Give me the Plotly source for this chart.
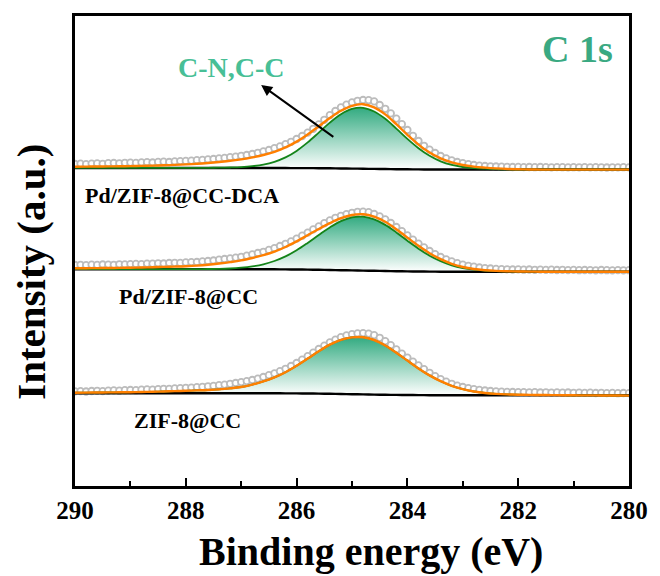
import numpy as np
import plotly.graph_objects as go

# ---------------- data ----------------
# binding-energy grids (eV)
E_data = np.round(np.linspace(290.0, 280.0, 101), 2)
E_fit = np.round(np.linspace(290.0, 280.0, 51), 2)

# raw spectra (a.u., already stacked)
raw_dca = [322.0, 322.3, 321.8, 322.4, 322.6, 322.2, 322.8, 323.0, 322.7, 323.2,
           323.4, 323.1, 323.6, 323.8, 323.5, 324.1, 324.3, 324.0, 324.6, 324.9,
           325.1, 325.4, 325.8, 326.1, 326.6, 327.0, 327.6, 328.1, 328.8, 329.4,
           330.2, 331.0, 332.0, 333.2, 334.6, 336.0, 337.8, 339.6, 341.8, 344.2,
           347.0, 350.0, 353.4, 357.2, 361.6, 366.2, 370.8, 375.0, 378.6, 381.4,
           383.6, 385.2, 386.0, 385.8, 384.6, 381.0, 377.2, 372.6, 367.4, 361.8,
           356.0, 350.2, 345.0, 340.2, 336.4, 333.0, 330.0, 327.6, 325.6, 324.0,
           322.8, 321.8, 321.0, 320.4, 320.0, 319.7, 319.5, 319.3, 319.2, 319.0,
           319.1, 318.9, 319.0, 318.8, 319.0, 318.9, 318.7, 318.9, 318.8, 318.6,
           318.8, 318.7, 318.9, 318.6, 318.8, 318.7, 318.5, 318.7, 318.6, 318.8,
           318.6]
raw_pd = [221.0, 221.2, 220.9, 221.3, 221.1, 221.5, 221.4, 221.2, 221.7, 221.6,
          221.9, 222.1, 221.8, 222.4, 222.3, 222.7, 222.5, 223.0, 223.2, 223.1,
          223.6, 223.9, 224.0, 224.6, 225.0, 225.5, 226.3, 227.0, 227.6, 228.4,
          229.2, 230.3, 231.6, 233.0, 234.2, 236.1, 237.8, 240.0, 242.2, 244.6,
          247.4, 250.3, 253.4, 256.6, 259.6, 262.8, 265.6, 268.2, 270.2, 271.9,
          273.2, 274.2, 274.4, 273.8, 272.0, 269.6, 266.6, 263.0, 259.0, 254.8,
          250.6, 246.4, 242.4, 238.6, 235.0, 231.8, 229.0, 226.6, 224.6, 222.8,
          221.4, 220.2, 219.3, 218.5, 217.9, 217.5, 217.1, 216.9, 216.7, 216.5,
          216.6, 216.3, 216.5, 216.2, 216.4, 216.1, 216.3, 216.0, 216.2, 215.9,
          216.1, 215.8, 216.0, 215.9, 215.7, 216.0, 215.8, 215.6, 215.9, 215.7,
          215.8]
raw_zif = [94.6, 94.9, 94.5, 95.0, 95.2, 94.9, 95.4, 95.6, 95.3, 95.8,
           96.0, 95.8, 96.3, 96.6, 96.4, 96.9, 97.2, 97.1, 97.6, 97.9,
           98.2, 98.4, 98.9, 99.2, 99.7, 100.1, 100.8, 101.4, 102.2, 103.0,
           103.9, 104.9, 106.0, 107.4, 109.0, 110.8, 112.6, 114.8, 117.2, 120.0,
           123.0, 126.4, 129.8, 133.4, 137.0, 140.4, 143.6, 146.4, 148.8, 150.6,
           151.8, 152.6, 152.9, 152.4, 150.8, 148.2, 144.8, 140.8, 136.6, 132.4,
           128.4, 124.4, 120.6, 116.8, 113.2, 109.8, 106.9, 104.4, 102.2, 100.4,
           99.0, 97.8, 96.9, 96.1, 95.5, 95.0, 94.6, 94.4, 94.1, 94.0,
           93.8, 93.9, 93.6, 93.8, 93.5, 93.7, 93.4, 93.6, 93.3, 93.5,
           93.2, 93.4, 93.1, 93.3, 93.0, 93.2, 92.9, 93.1, 92.8, 93.0,
           92.9]

# Shirley backgrounds
bg_dca = [318.0, 318.0, 318.0, 318.0, 318.0, 318.0, 318.0, 318.0, 318.0, 318.0,
          318.0, 318.0, 318.0, 318.0, 318.0, 318.0, 318.0, 318.0, 318.0, 317.95,
          317.9, 317.85, 317.8, 317.7, 317.55, 317.4, 317.25, 317.1, 316.95, 316.8,
          316.7, 316.6, 316.5, 316.5, 316.5, 316.5, 316.5, 316.5, 316.5, 316.5,
          316.5, 316.5, 316.5, 316.5, 316.5, 316.5, 316.5, 316.5, 316.5, 316.5,
          316.5]
bg_pd = [216.7, 216.7, 216.7, 216.7, 216.7, 216.7, 216.7, 216.7, 216.7, 216.7,
         216.7, 216.7, 216.7, 216.7, 216.7, 216.7, 216.7, 216.7, 216.7, 216.6,
         216.5, 216.4, 216.2, 216.0, 215.8, 215.6, 215.4, 215.2, 215.0, 214.8,
         214.6, 214.5, 214.4, 214.3, 214.3, 214.3, 214.3, 214.3, 214.3, 214.3,
         214.3, 214.3, 214.3, 214.3, 214.3, 214.3, 214.3, 214.3, 214.3, 214.3,
         214.3]
bg_zif = [92.7, 92.7, 92.7, 92.7, 92.7, 92.7, 92.7, 92.7, 92.7, 92.7,
          92.7, 92.7, 92.7, 92.7, 92.7, 92.7, 92.7, 92.7, 92.7, 92.65,
          92.6, 92.5, 92.4, 92.2, 92.0, 91.8, 91.6, 91.4, 91.25, 91.1,
          91.0, 90.9, 90.8, 90.8, 90.8, 90.8, 90.8, 90.8, 90.8, 90.8,
          90.8, 90.8, 90.8, 90.8, 90.8, 90.8, 90.8, 90.8, 90.8, 90.8,
          90.8]

# C-N, C-C component (including background)
comp_dca = [318.1, 318.1, 318.1, 318.1, 318.1, 318.1, 318.1, 318.1, 318.1, 318.1,
            318.1, 318.2, 318.2, 318.3, 318.5, 318.9, 319.8, 321.4, 324.2, 328.6,
            335.1, 343.6, 353.4, 363.4, 371.8, 377.1, 378.2, 374.5, 367.2, 357.4,
            347.1, 337.8, 330.2, 324.7, 321.1, 319.0, 317.9, 317.3, 316.9, 316.6,
            316.5, 316.5, 316.5, 316.5, 316.5, 316.5, 316.5, 316.5, 316.5, 316.5,
            316.5]
comp_pd = [216.8, 216.8, 216.8, 216.8, 216.8, 216.8, 216.8, 216.8, 216.8, 216.8,
           216.8, 216.9, 217.0, 217.1, 217.5, 218.3, 219.6, 221.7, 225.0, 229.6,
           235.7, 243.1, 251.0, 258.6, 264.9, 268.7, 269.3, 266.6, 261.1, 253.6,
           245.3, 237.3, 230.3, 224.8, 220.7, 218.0, 216.4, 215.4, 214.9, 214.6,
           214.4, 214.3, 214.3, 214.3, 214.3, 214.3, 214.3, 214.3, 214.3, 214.3,
           214.3]

# fitted envelopes
fit_dca = [319.3, 319.4, 319.5, 319.6, 319.7, 319.9, 320.1, 320.4, 320.7, 321.1,
           321.6, 322.2, 323.0, 324.0, 325.2, 326.6, 328.6, 331.0, 334.2, 338.6,
           344.4, 351.6, 359.8, 368.0, 375.2, 380.2, 381.8, 378.6, 371.6, 361.8,
           351.2, 341.4, 333.4, 327.6, 323.6, 321.0, 319.4, 318.4, 317.6, 317.0,
           316.7, 316.5, 316.4, 316.4, 316.4, 316.4, 316.4, 316.4, 316.4, 316.4,
           316.4]
fit_pd = [217.7, 217.8, 217.9, 218.0, 218.1, 218.3, 218.5, 218.8, 219.1, 219.4,
          219.8, 220.4, 221.3, 222.5, 223.9, 225.6, 228.0, 230.8, 234.4, 239.0,
          244.6, 250.8, 257.0, 262.8, 267.8, 271.0, 271.8, 269.4, 264.2, 256.8,
          248.4, 240.2, 232.8, 226.8, 222.2, 219.0, 217.0, 215.8, 215.1, 214.7,
          214.5, 214.4, 214.3, 214.3, 214.3, 214.3, 214.3, 214.3, 214.3, 214.3,
          214.3]
fit_zif = [93.3, 93.4, 93.5, 93.6, 93.7, 93.8, 94.0, 94.2, 94.5, 94.9,
           95.2, 95.6, 96.0, 96.6, 97.6, 99.0, 101.4, 104.6, 108.6, 113.8,
           120.2, 127.4, 134.8, 141.4, 146.2, 148.6, 148.8, 146.0, 140.5, 133.3,
           125.4, 117.6, 110.6, 104.8, 100.2, 96.8, 94.5, 93.0, 92.1, 91.6,
           91.3, 91.1, 91.0, 90.9, 90.8, 90.7, 90.6, 90.6, 90.5, 90.5,
           90.4]
comp_zif = fit_zif  # single component follows the envelope

sample_names = ["Pd/ZIF-8@CC-DCA", "Pd/ZIF-8@CC", "ZIF-8@CC"]
x_ticks = [290, 288, 286, 284, 282, 280]

# ---------------- styling ----------------
FONT = "Liberation Serif"
GRAY = "#bcbcbc"
ORANGE = "#ff7f00"
DGREEN = "#14841a"
FILL_TOP = "#33ab81"

fig = go.Figure()

spectra = [
    (raw_dca, bg_dca, comp_dca, fit_dca),
    (raw_pd, bg_pd, comp_pd, fit_pd),
    (raw_zif, bg_zif, comp_zif, fit_zif),
]

for raw, bg, comp, fit in spectra:
    fig.add_trace(go.Scatter(
        x=E_data, y=raw, mode="markers",
        marker=dict(symbol="circle", size=6.5, color="white",
                    line=dict(color=GRAY, width=1.8)),
        showlegend=False, hoverinfo="skip"))
    fig.add_trace(go.Scatter(
        x=E_fit, y=bg, mode="lines", line=dict(color="black", width=2.4, shape="spline"),
        showlegend=False, hoverinfo="skip"))
    fig.add_trace(go.Scatter(
        x=E_fit, y=comp, mode="lines", line=dict(color=DGREEN, width=1.8, shape="spline"),
        fill="tonexty",
        fillgradient=dict(type="vertical",
                          colorscale=[[0, "rgba(255,255,255,1)"], [1, FILL_TOP]],
                          start=min(bg), stop=max(comp)),
        showlegend=False, hoverinfo="skip"))
    fig.add_trace(go.Scatter(
        x=E_fit, y=fit, mode="lines", line=dict(color=ORANGE, width=2.4, shape="spline"),
        showlegend=False, hoverinfo="skip"))

# sample labels
label_pos = [(289.86, 291), (289.24, 190), (288.97, 66)]
for name, (lx, ly) in zip(sample_names, label_pos):
    fig.add_annotation(x=lx, y=ly, xref="x", yref="y", text=name, showarrow=False,
                       xanchor="left", yanchor="middle",
                       font=dict(family=FONT, size=22, color="black", weight="bold"))

# peak label with arrow
fig.add_annotation(x=286.64, y=401, ax=285.31, ay=348, xref="x", yref="y",
                   axref="x", ayref="y", text="", showarrow=True,
                   arrowhead=2, arrowsize=1.1, arrowwidth=2, arrowcolor="black")
fig.add_annotation(x=287.17, y=419, xref="x", yref="y", text="C-N,C-C",
                   showarrow=False, xanchor="center", yanchor="middle",
                   font=dict(family=FONT, size=28, color="#48bf96", weight="bold"))
fig.add_annotation(x=280.93, y=437, xref="x", yref="y", text="C 1s",
                   showarrow=False, xanchor="center", yanchor="middle",
                   font=dict(family=FONT, size=38, color="#3aa982", weight="bold"))

# axis titles
fig.add_annotation(x=0.535, y=-0.14, xref="paper", yref="paper",
                   text="Binding energy (eV)", showarrow=False,
                   xanchor="center", yanchor="middle",
                   font=dict(family=FONT, size=40, color="black", weight="bold"))
fig.add_annotation(x=-0.08, y=0.455, xref="paper", yref="paper",
                   text="Intensity (a.u.)", showarrow=False, textangle=-90,
                   xanchor="center", yanchor="middle",
                   font=dict(family=FONT, size=41, color="black", weight="bold"))

fig.update_layout(
    width=660, height=576,
    margin=dict(l=75, r=20, t=16, b=90),
    paper_bgcolor="white", plot_bgcolor="white",
    showlegend=False,
)
fig.update_xaxes(
    range=[290, 280], tickvals=x_ticks, ticktext=[str(t) for t in x_ticks],
    ticks="inside", ticklen=8, tickwidth=2, tickcolor="black",
    minor=dict(dtick=1, ticks="inside", ticklen=5, tickwidth=2, tickcolor="black"),
    showline=True, linecolor="black", linewidth=3, mirror=True,
    showgrid=False, zeroline=False,
    tickfont=dict(family=FONT, size=25, color="black", weight="bold"),
)
fig.update_yaxes(
    range=[0, 470], showticklabels=False, ticks="",
    showline=True, linecolor="black", linewidth=3, mirror=True,
    showgrid=False, zeroline=False,
)

fig.write_html("out.html")
